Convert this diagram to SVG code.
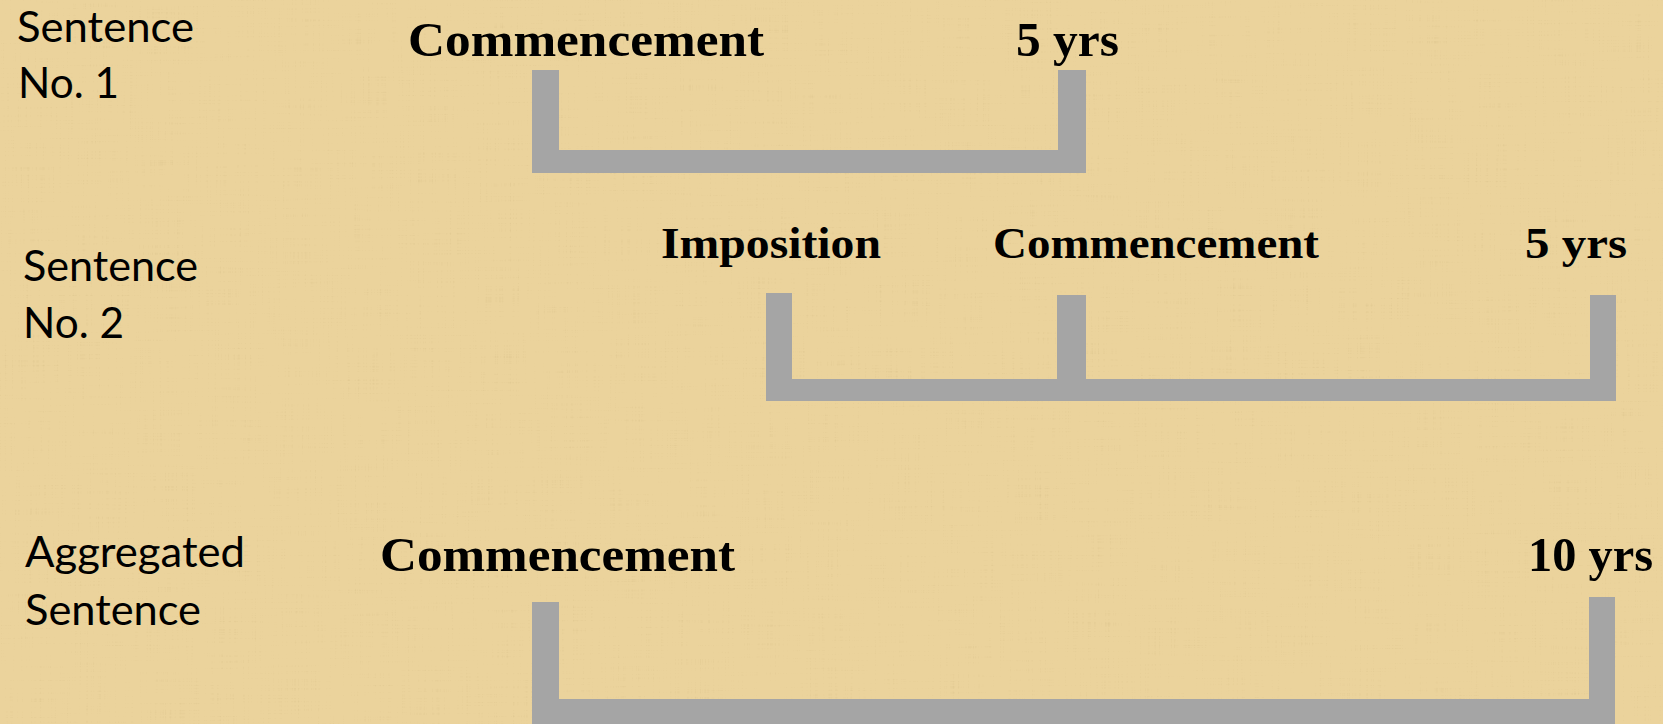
<svg xmlns="http://www.w3.org/2000/svg" width="1663" height="724" viewBox="0 0 1663 724">
  <defs>
    <filter id="papyrus" x="0" y="0" width="100%" height="100%">
      <feTurbulence type="fractalNoise" baseFrequency="0.6 0.015" numOctaves="2" seed="3" result="v"/>
      <feTurbulence type="fractalNoise" baseFrequency="0.015 0.6" numOctaves="2" seed="7" result="h"/>
      <feBlend in="v" in2="h" mode="multiply" result="b"/>
      <feColorMatrix in="b" type="matrix" values="0 0 0 0 0.55  0 0 0 0 0.42  0 0 0 0 0.18  0 0 0 -1.3 0.85"/>
    </filter>
    <style>
      .lbl { font-family: Lato, "Liberation Sans", sans-serif; font-size: 42px; fill: #000; }
      .ser { font-family: "Liberation Serif", "DejaVu Serif", serif; font-weight: bold; fill: #000; }
      .big { font-size: 48px; }
      .mid { font-size: 44px; }
      .bracket { fill: #A5A5A5; }
    </style>
  </defs>
  <rect width="1663" height="724" fill="#EBD39C"/>
  <rect width="1663" height="724" filter="url(#papyrus)" opacity="0.5"/>

  <g id="row1-label">
    <text class="lbl" x="17" y="42" textLength="177" lengthAdjust="spacingAndGlyphs">Sentence</text>
    <text class="lbl" x="18" y="98" textLength="101" lengthAdjust="spacingAndGlyphs">No. 1</text>
  </g>
  <g id="row1">
    <text class="ser big" x="408" y="56" textLength="356" lengthAdjust="spacingAndGlyphs">Commencement</text>
    <text class="ser big" x="1016" y="56" textLength="103" lengthAdjust="spacingAndGlyphs">5 yrs</text>
  </g>

  <g id="row2-label">
    <text class="lbl" x="23" y="281" textLength="175" lengthAdjust="spacingAndGlyphs">Sentence</text>
    <text class="lbl" x="23" y="338" textLength="101" lengthAdjust="spacingAndGlyphs">No. 2</text>
  </g>
  <g id="row2">
    <text class="ser mid" x="661" y="258" textLength="220" lengthAdjust="spacingAndGlyphs">Imposition</text>
    <text class="ser mid" x="993" y="258" textLength="326" lengthAdjust="spacingAndGlyphs">Commencement</text>
    <text class="ser mid" x="1525" y="258" textLength="102" lengthAdjust="spacingAndGlyphs">5 yrs</text>
  </g>

  <g id="row3-label">
    <text class="lbl" x="25" y="567" textLength="220" lengthAdjust="spacingAndGlyphs">Aggregated</text>
    <text class="lbl" x="25" y="625" textLength="176" lengthAdjust="spacingAndGlyphs">Sentence</text>
  </g>
  <g id="row3">
    <text class="ser big" x="380" y="571" textLength="355" lengthAdjust="spacingAndGlyphs">Commencement</text>
    <text class="ser big" x="1528" y="571" textLength="125" lengthAdjust="spacingAndGlyphs">10 yrs</text>
  </g>

  <g id="connectors">
    <path class="bracket" d="M532,70 H559 V150 H1058 V70 H1086 V173 H532 Z"/>
    <path class="bracket" d="M766,293 H792 V379 H1057 V295 H1086 V379 H1590 V295 H1616 V401 H766 Z"/>
    <path class="bracket" d="M532,602 H559 V699 H1589 V597 H1615 V724 H532 Z"/>
  </g>
</svg>
